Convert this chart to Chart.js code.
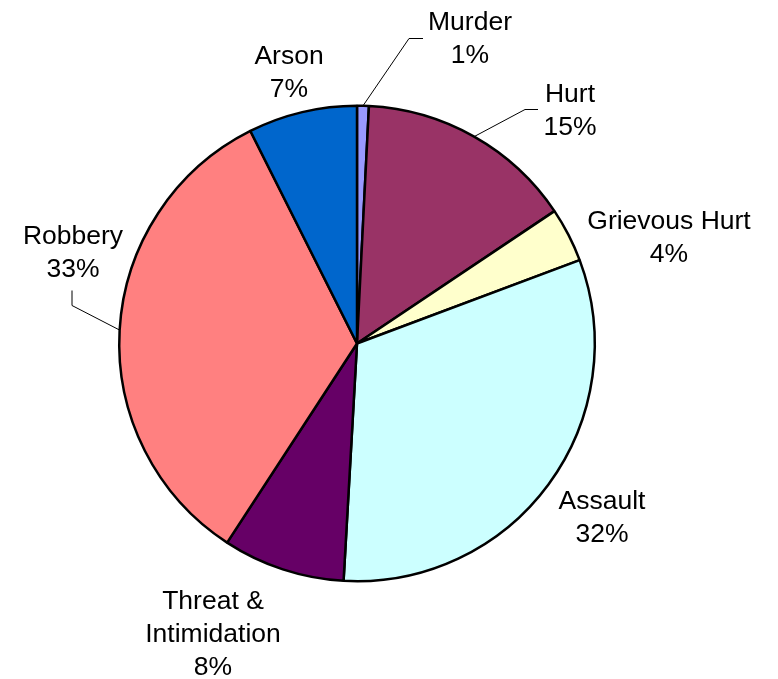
<!DOCTYPE html>
<html>
<head>
<meta charset="utf-8">
<script src="https://cdn.jsdelivr.net/npm/chart.js@4/dist/chart.umd.min.js"></script>
<style>
  body { margin: 0; background: #fff; }
  canvas { display: block; }
</style>
</head>
<body>
<canvas id="pieChart" width="778" height="679"></canvas>
<script>
// ===============================
// DATA
// ===============================
const categories = ["Murder", "Hurt", "Grievous Hurt", "Assault", "Threat & Intimidation", "Robbery", "Arson"];
const shares = [0.8, 14.8, 3.7, 31.6, 8.3, 33.4, 7.4];
const percentLabels = ["1%", "15%", "4%", "32%", "8%", "33%", "7%"];
const sliceColors = ["#9999FF", "#993366", "#FFFFCC", "#CCFFFF", "#660066", "#FF8080", "#0066CC"];

// ===============================
// LABEL LAYOUT (offsets from pie centre)
// ===============================
const labelLines = [
  ["Murder"], ["Hurt"], ["Grievous Hurt"], ["Assault"],
  ["Threat &", "Intimidation"], ["Robbery"], ["Arson"]
];
const labelOffsets = [
  [113, -306], [213, -234], [312, -107], [245, 173],
  [-144, 289], [-284, -92], [-68, -272]
];
// leader lines: elbow and end point, null = no leader
const leaders = [
  [[52, -305], [66, -305]],
  [[168, -234], [181, -234]],
  null, null, null,
  [[-285, -38], [-285, -53]],
  null
];

const FONT_SIZE = 26.5;
const LINE_H = 33;

const labelPlugin = {
  id: "sliceLabels",
  afterDraw(chart) {
    const ctx = chart.ctx;
    const meta = chart.getDatasetMeta(0);
    ctx.save();
    ctx.font = FONT_SIZE + "px 'Liberation Sans', Arial, sans-serif";
    ctx.fillStyle = "#000";
    ctx.textAlign = "center";
    ctx.textBaseline = "alphabetic";

    meta.data.forEach((arc, i) => {
      const cx = arc.x;
      const cy = arc.y;

      // leader line
      if (leaders[i]) {
        const mid = (arc.startAngle + arc.endAngle) / 2;
        const r = arc.outerRadius;
        ctx.beginPath();
        ctx.strokeStyle = "#000";
        ctx.lineWidth = 1;
        ctx.moveTo(cx + r * Math.cos(mid), cy + r * Math.sin(mid));
        ctx.lineTo(cx + leaders[i][0][0], cy + leaders[i][0][1]);
        ctx.lineTo(cx + leaders[i][1][0], cy + leaders[i][1][1]);
        ctx.stroke();
      }

      // text
      const lines = labelLines[i].concat([percentLabels[i]]);
      const lx = cx + labelOffsets[i][0];
      const ly = cy + labelOffsets[i][1];
      const top = ly - (lines.length - 1) * LINE_H / 2;
      lines.forEach((t, k) => {
        ctx.fillText(t, lx, top + k * LINE_H + FONT_SIZE * 0.358);
      });
    });
    ctx.restore();
  }
};

new Chart(document.getElementById("pieChart"), {
  type: "pie",
  data: {
    labels: categories,
    datasets: [{
      data: shares,
      backgroundColor: sliceColors,
      borderColor: "#000",
      borderWidth: 2.5
    }]
  },
  options: {
    responsive: false,
    animation: false,
    layout: { padding: { left: 118, right: 182, top: 104, bottom: 96 } },
    plugins: {
      legend: { display: false },
      tooltip: { enabled: false }
    }
  },
  plugins: [labelPlugin]
});
</script>
</body>
</html>
